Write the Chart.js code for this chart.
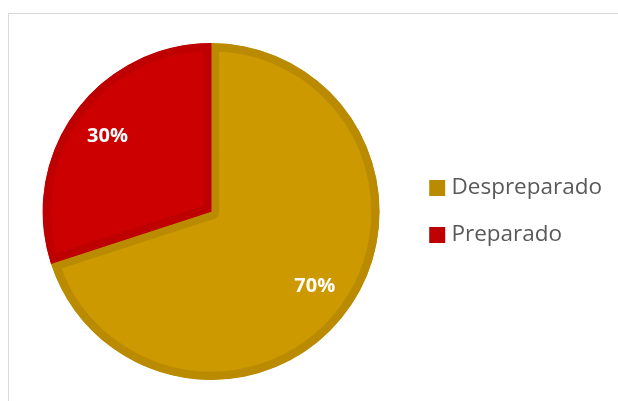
<!DOCTYPE html>
<html>
<head>
<meta charset="utf-8">
<script src="https://cdn.jsdelivr.net/npm/chart.js@4/dist/chart.umd.min.js"></script>
<style>
  html, body { margin: 0; padding: 0; background: #fff; overflow: hidden; }
  #frame { position: absolute; left: 8px; top: 13px; width: 700px; height: 500px; border: 1px solid #d9d9d9; }
  #wrap { position: absolute; left: 0; top: 0; width: 612px; height: 401px; }
</style>
</head>
<body>
<div id="frame"></div>
<div id="wrap"><canvas id="pie"></canvas></div>
<script>
const categories = ["Despreparado", "Preparado"];
const values = [70, 30];
const valueLabels = ["70%", "30%"];
const fillColors = ["#cc9900", "#cc0000"];
const edgeColors = ["#ba8b00", "#bf0000"];

// percent labels inside each slice
const sliceLabels = {
  id: "sliceLabels",
  afterDatasetsDraw(chart) {
    const ctx = chart.ctx;
    const arcs = chart.getDatasetMeta(0).data;
    ctx.save();
    ctx.fillStyle = "#ffffff";
    ctx.font = "bold 20px 'Open Sans'";
    ctx.textAlign = "center";
    ctx.textBaseline = "middle";
    arcs.forEach(function (arc, i) {
      const p = arc.getProps(["x", "y", "startAngle", "endAngle", "outerRadius"], true);
      const mid = (p.startAngle + p.endAngle) / 2;
      const r = p.outerRadius * 0.76;
      ctx.fillText(valueLabels[i], p.x + Math.cos(mid) * r, p.y + Math.sin(mid) * r);
    });
    ctx.restore();
  }
};

new Chart(document.getElementById("pie").getContext("2d"), {
  type: "pie",
  data: {
    labels: categories,
    datasets: [
      {
        data: values,
        backgroundColor: fillColors,
        borderColor: edgeColors,
        borderWidth: 8,
        borderAlign: "inner",
      },
    ],
  },
  options: {
    responsive: true,
    maintainAspectRatio: false,
    animation: false,
    layout: {
      padding: { top: 43, bottom: 21, left: 12.5, right: 0 },
    },
    plugins: {
      tooltip: { enabled: false },
      legend: {
        position: "right",
        labels: {
          // small box + thick stroke -> 16px square close to the text
          boxWidth: 6,
          boxHeight: 6,
          padding: 24.5,
          color: "#595959",
          font: { family: "'Open Sans'", size: 22.5 },
          generateLabels(chart) {
            return categories.map(function (c, i) {
              return {
                text: c,
                fillStyle: edgeColors[i],
                strokeStyle: edgeColors[i],
                lineWidth: 10,
                fontColor: "#595959",
                index: i,
              };
            });
          },
        },
      },
    },
  },
  plugins: [sliceLabels],
});
</script>
</body>
</html>
